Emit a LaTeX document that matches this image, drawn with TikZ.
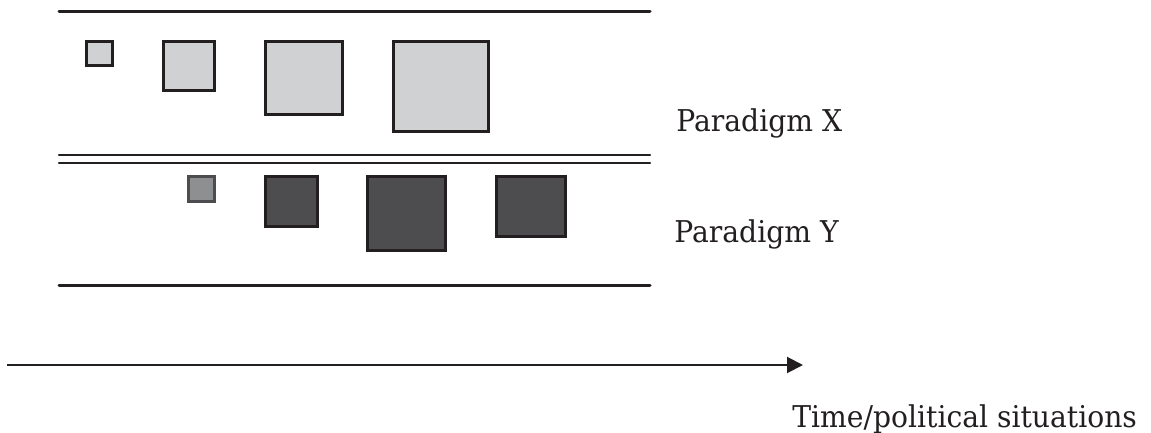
\documentclass[tikz,border=0pt]{standalone}
\usepackage{fontspec}
\setmainfont{DejaVu Serif}[FakeStretch=0.94]
\usepackage{tikz}
\usetikzlibrary{arrows.meta}
\definecolor{ink}{HTML}{231F20}
\definecolor{paleX}{HTML}{D0D1D3}
\definecolor{darkY}{HTML}{4D4D4F}
\definecolor{midY}{HTML}{8E8F91}

\begin{document}
\begin{tikzpicture}[
    x=0.5pt, y=-0.5pt,
    band/.style={draw=ink, line width=1.5pt, line cap=round},
    thinband/.style={draw=ink, line width=1.2pt, line cap=round},
    boxX/.style={draw=ink, fill=paleX, line width=1.5pt},
    boxY/.style={draw=ink, fill=darkY, line width=1.5pt},
    boxYfaint/.style={draw=darkY, fill=midY, line width=1.5pt},
    tag/.style={font=\fontsize{15pt}{18pt}\selectfont, text=ink,
                inner sep=0pt, anchor=base west},
    timearrow/.style={-{Triangle[length=8pt, width=8pt]}, draw=ink,
                      line width=1pt}
]
\useasboundingbox (0,0) rectangle (1151,433);

% band limits
\draw[band]     (59,12)  -- (650,12);
\draw[thinband] (59,155) -- (650,155);
\draw[thinband] (59,163) -- (650,163);
\draw[band]     (59,285) -- (650,285);

% paradigm X: growing squares
\draw[boxX] (86,42)  rectangle (112,66);
\draw[boxX] (163,42) rectangle (214,91);
\draw[boxX] (265,42) rectangle (342,115);
\draw[boxX] (393,42) rectangle (488,132);

% paradigm Y: rising then falling
\draw[boxYfaint] (188,176) rectangle (214,201);
\draw[boxY] (265,176) rectangle (317,226);
\draw[boxY] (367,176) rectangle (445,250);
\draw[boxY] (496,176) rectangle (565,236);

\node[tag] (parX) at (676,132) {Paradigm X};
\node[tag] (parY) at (674,242) {Paradigm Y};

% time axis
\coordinate (t0) at (7,365);
\coordinate (t1) at (803,365);
\draw[timearrow] (t0) -- (t1);
\node[tag] (time) at (792,427) {Time/political situations};

\end{tikzpicture}
\end{document}
